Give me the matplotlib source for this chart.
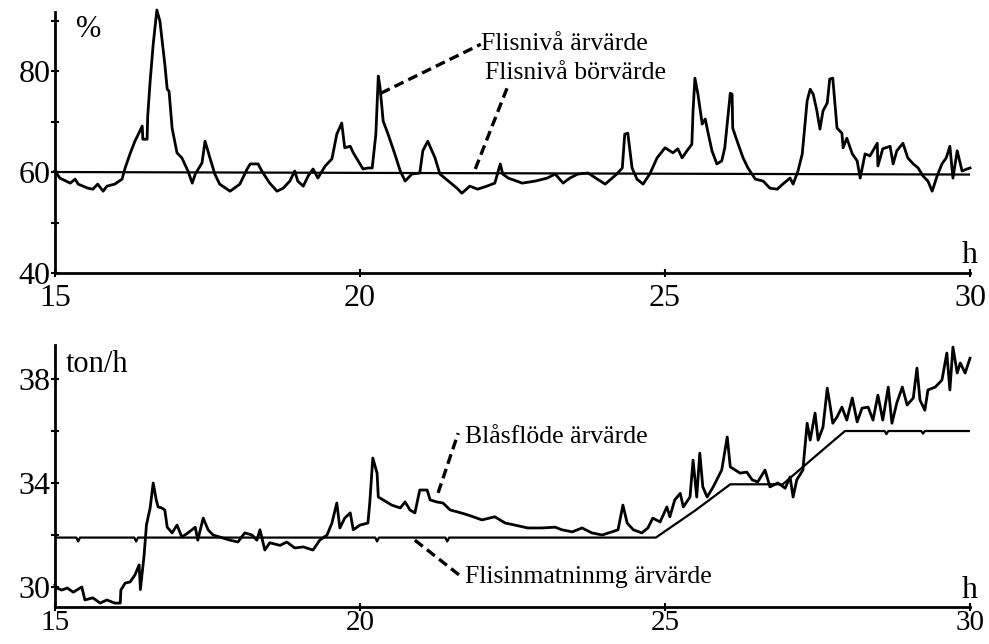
import matplotlib
matplotlib.use("Agg")
import matplotlib.pyplot as plt

plt.rcParams['font.family'] = ['Liberation Serif', 'DejaVu Serif']

# --- Flisnivå (%) ---
top_t = [15.0, 15.08, 15.25, 15.33, 15.38, 15.54, 15.62, 15.70, 15.79, 15.85, 15.98, 16.10, 16.15, 16.23,
         16.31, 16.43, 16.44, 16.51, 16.52, 16.56, 16.61, 16.66, 16.67, 16.72, 16.80, 16.84, 16.87, 16.92,
         17.0, 17.08, 17.18, 17.25, 17.30, 17.41, 17.46, 17.54, 17.62, 17.70, 17.87, 18.03, 18.15, 18.20,
         18.33, 18.39, 18.52, 18.64, 18.74, 18.85, 18.93, 18.98, 19.07, 19.15, 19.23, 19.31, 19.43, 19.54,
         19.62, 19.70, 19.75, 19.84, 19.89, 20.05, 20.13, 20.20, 20.26, 20.30, 20.33, 20.38, 20.46, 20.57,
         20.66, 20.74, 20.85, 20.98, 21.03, 21.11, 21.23, 21.31, 21.39, 21.51, 21.59, 21.67, 21.80, 21.93,
         22.08, 22.21, 22.30, 22.34, 22.43, 22.66, 22.87, 23.07, 23.20, 23.33, 23.44, 23.57, 23.74, 23.89,
         24.02, 24.21, 24.30, 24.34, 24.39, 24.46, 24.54, 24.64, 24.75, 24.87, 25.0, 25.13, 25.21, 25.28,
         25.36, 25.44, 25.46, 25.49, 25.54, 25.61, 25.66, 25.70, 25.77, 25.85, 25.93, 25.98, 26.03, 26.07,
         26.10, 26.11, 26.20, 26.28, 26.36, 26.48, 26.61, 26.72, 26.84, 26.93, 27.05, 27.10, 27.18, 27.25,
         27.33, 27.38, 27.43, 27.49, 27.54, 27.59, 27.66, 27.70, 27.75, 27.82, 27.90, 27.92, 27.98, 28.07,
         28.15, 28.20, 28.28, 28.36, 28.48, 28.49, 28.57, 28.69, 28.74, 28.80, 28.90, 28.98, 29.07, 29.15,
         29.23, 29.31, 29.38, 29.46, 29.54, 29.61, 29.67, 29.72, 29.79, 29.87, 29.95, 30.0]
top_level = [60.2, 58.8, 57.8, 58.6, 57.6, 56.8, 56.6, 57.6, 56.2, 57.2, 57.6, 58.6, 60.8, 63.6,
             66.1, 69.1, 66.5, 66.5, 71.1, 78.0, 85.3, 90.9, 92.1, 89.9, 81.4, 76.4, 76.0, 68.7,
             63.8, 62.8, 60.2, 57.8, 59.6, 61.8, 66.1, 62.8, 59.6, 57.6, 56.2, 57.6, 60.6, 61.6,
             61.6, 60.2, 57.8, 56.2, 56.8, 58.2, 60.2, 58.2, 57.2, 59.2, 60.6, 58.8, 61.2, 62.6,
             67.5, 69.7, 64.8, 65.1, 63.8, 60.6, 60.8, 60.8, 67.5, 79.0, 76.6, 70.1, 67.5, 63.6,
             60.2, 58.2, 59.6, 59.8, 64.2, 66.1, 62.8, 59.6, 58.8, 57.6, 56.8, 55.8, 57.2, 56.6,
             57.2, 57.8, 61.6, 59.6, 58.8, 57.8, 58.2, 58.8, 59.6, 57.8, 58.8, 59.6, 59.8, 58.6,
             57.6, 59.6, 60.8, 67.5, 67.7, 60.8, 58.6, 57.6, 59.6, 62.8, 64.8, 63.8, 64.6, 62.8,
             64.2, 65.5, 72.1, 78.6, 75.4, 69.5, 70.5, 68.1, 64.2, 61.6, 62.2, 64.8, 70.7, 75.6,
             75.4, 68.7, 65.5, 62.8, 60.8, 58.6, 58.2, 56.8, 56.6, 57.6, 58.8, 57.6, 60.2, 63.6,
             74.1, 76.4, 75.4, 72.1, 68.5, 72.1, 73.7, 78.4, 78.6, 68.7, 67.7, 64.8, 66.7, 63.6,
             62.2, 58.8, 63.6, 63.2, 65.7, 61.2, 64.6, 65.1, 61.6, 64.2, 65.7, 62.8, 61.6, 60.8,
             59.2, 58.2, 56.2, 59.2, 61.6, 62.8, 65.1, 58.8, 64.2, 60.2, 60.6, 60.8]
top_set_t = [15.0, 30.0]
top_set = [60.0, 59.5]

# --- Blåsflöde / Flisinmatning (ton/h) ---
bot_t = [15.0, 15.03, 15.11, 15.2, 15.3, 15.44, 15.49, 15.62, 15.74, 15.85, 15.98, 16.07, 16.08, 16.15,
         16.23, 16.31, 16.38, 16.40, 16.46, 16.50, 16.56, 16.61, 16.66, 16.69, 16.75, 16.80, 16.84, 16.92,
         17.0, 17.08, 17.18, 17.30, 17.34, 17.43, 17.51, 17.59, 17.70, 17.87, 18.0, 18.11, 18.23, 18.31,
         18.36, 18.44, 18.52, 18.69, 18.80, 18.93, 19.07, 19.23, 19.34, 19.46, 19.54, 19.62, 19.67, 19.75,
         19.84, 19.89, 20.0, 20.13, 20.16, 20.21, 20.28, 20.30, 20.38, 20.52, 20.66, 20.74, 20.82, 20.90,
         20.98, 21.10, 21.15, 21.26, 21.36, 21.48, 21.61, 21.77, 22.0, 22.21, 22.38, 22.54, 22.75, 22.98,
         23.20, 23.31, 23.48, 23.64, 23.80, 23.97, 24.13, 24.23, 24.31, 24.38, 24.48, 24.62, 24.72, 24.80,
         24.92, 25.03, 25.08, 25.16, 25.25, 25.30, 25.41, 25.46, 25.52, 25.57, 25.62, 25.69, 25.79, 25.93,
         26.02, 26.07, 26.15, 26.23, 26.34, 26.43, 26.52, 26.64, 26.72, 26.85, 26.97, 27.05, 27.10, 27.16,
         27.26, 27.33, 27.38, 27.46, 27.51, 27.59, 27.66, 27.70, 27.75, 27.82, 27.90, 27.98, 28.07, 28.15,
         28.23, 28.33, 28.41, 28.49, 28.57, 28.66, 28.72, 28.80, 28.89, 28.97, 29.07, 29.13, 29.18, 29.26,
         29.31, 29.43, 29.54, 29.62, 29.67, 29.72, 29.79, 29.84, 29.92, 30.0]
bot_flow = [30.08, 29.96, 29.88, 29.96, 29.8, 30.0, 29.5, 29.58, 29.38, 29.5, 29.38, 29.38, 29.88, 30.15,
            30.19, 30.46, 30.85, 29.9, 31.2, 32.4, 33.04, 34.0, 33.35, 33.08, 33.04, 32.96, 32.3, 32.08,
            32.38, 31.92, 32.08, 32.3, 31.8, 32.65, 32.2, 32.0, 31.92, 31.8, 31.73, 32.08, 32.0, 31.8,
            32.2, 31.42, 31.7, 31.6, 31.73, 31.5, 31.54, 31.42, 31.8, 32.0, 32.46, 33.23, 32.27, 32.65,
            32.85, 32.2, 32.38, 32.46, 33.23, 34.96, 34.38, 33.46, 33.35, 33.15, 33.04, 33.27, 32.96, 32.85,
            33.73, 33.73, 33.35, 33.27, 33.23, 32.96, 32.88, 32.77, 32.58, 32.7, 32.46, 32.38, 32.27, 32.27,
            32.3, 32.2, 32.12, 32.27, 32.08, 32.0, 32.12, 32.2, 33.15, 32.46, 32.2, 32.08, 32.27, 32.65,
            32.5, 33.08, 32.7, 33.35, 33.6, 33.08, 33.46, 34.88, 33.46, 35.15, 33.85, 33.46, 33.85, 34.5,
            35.77, 34.62, 34.5, 34.38, 34.42, 34.12, 34.04, 34.5, 33.85, 34.0, 33.8, 34.23, 33.46, 34.12,
            34.5, 36.3, 35.65, 36.69, 35.65, 36.15, 37.65, 37.08, 36.3, 36.54, 36.92, 36.42, 37.27, 36.35,
            36.88, 36.92, 36.42, 37.38, 36.42, 37.69, 36.3, 37.08, 37.69, 37.0, 37.27, 38.42, 37.19, 36.8,
            37.58, 37.69, 37.96, 39.0, 37.58, 39.23, 38.23, 38.62, 38.23, 38.8]
bot_set_t = [15.0, 15.35, 15.38, 15.41, 16.30, 16.33, 16.36, 20.25, 20.28, 20.31, 21.40, 21.43, 21.46,
             24.85, 25.5, 26.07, 26.93, 27.4, 27.95, 28.6, 28.63, 28.66, 29.2, 29.23, 29.26, 30.0]
bot_set = [31.9, 31.9, 31.75, 31.9, 31.9, 31.75, 31.9, 31.9, 31.75, 31.9, 31.9, 31.75, 31.9,
           31.9, 32.95, 33.95, 33.95, 34.9, 36.0, 36.0, 35.88, 36.0, 36.0, 35.9, 36.0, 36.0]

LW = 2.0
DASH = (0, (3, 1.6))
fig = plt.figure(figsize=(9.89, 6.44), dpi=100)
ax1 = fig.add_axes([0.0556, 0.5761, 0.9252, 0.4053])
ax2 = fig.add_axes([0.0556, 0.0575, 0.9252, 0.4068])

for ax in (ax1, ax2):
    for s in ('top', 'right'):
        ax.spines[s].set_visible(False)
    for s in ('left', 'bottom'):
        ax.spines[s].set_linewidth(2.0)
    ax.set_xlim(15, 30)
    ax.set_xticks([15, 20, 25, 30])
    ax.tick_params(axis='both', direction='inout', length=6, width=1.5, labelsize=23, pad=0)
ax1.tick_params(axis='x', pad=5)
ax2.tick_params(axis='x', pad=-1, labelsize=21)

# top panel
ax1.plot(top_t, top_level, color='black', lw=LW, clip_on=False)
ax1.plot(top_set_t, top_set, color='black', lw=1.6)
ax1.set_ylim(40, 91.7)
ax1.set_yticks([40, 50, 60, 70, 80, 90])
ax1.set_yticklabels(['40', '', '60', '', '80', ''])
ax1.text(15.35, 88.3, '%', fontsize=22, va='center', ha='left')
ax1.text(30.0, 43.5, 'h', fontsize=23, va='center', ha='center')
ax1.plot([20.34, 21.98], [75.6, 85.3], color='black', lw=2.4, ls=DASH)
ax1.plot([21.89, 22.41], [60.6, 76.6], color='black', lw=2.4, ls=DASH)
ax1.text(21.98, 85.4, 'Flisnivå ärvärde', fontsize=18.5, va='center', ha='left')
ax1.text(22.05, 79.6, 'Flisnivå börvärde', fontsize=18.5, va='center', ha='left')

# bottom panel
ax2.plot(bot_t, bot_flow, color='black', lw=LW, clip_on=False)
ax2.plot(bot_set_t, bot_set, color='black', lw=1.6)
ax2.set_ylim(29.23, 39.31)
ax2.set_yticks([30, 32, 34, 36, 38])
ax2.set_yticklabels(['30', '', '34', '', '38'])
ax2.text(15.17, 38.55, 'ton/h', fontsize=22, va='center', ha='left')
ax2.text(30.0, 29.85, 'h', fontsize=23, va='center', ha='center')
ax2.plot([21.28, 21.61], [33.62, 35.92], color='black', lw=2.4, ls=DASH)
ax2.plot([20.90, 21.67], [31.8, 30.38], color='black', lw=2.4, ls=DASH)
ax2.text(21.72, 35.77, 'Blåsflöde ärvärde', fontsize=18.5, va='center', ha='left')
ax2.text(21.72, 30.38, 'Flisinmatninmg ärvärde', fontsize=18.5, va='center', ha='left')

fig.savefig('out.png', dpi=100)
